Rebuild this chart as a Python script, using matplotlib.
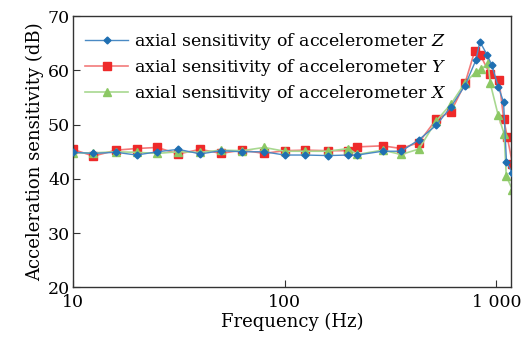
import matplotlib
matplotlib.use("Agg")
import matplotlib.pyplot as plt
from matplotlib.ticker import NullLocator

plt.rcParams['font.family'] = ['DejaVu Serif']
plt.rcParams['mathtext.fontset'] = 'dejavuserif'

freq_z = [10, 12.5, 16, 20, 25, 31.5, 40, 50, 63, 80, 100, 125, 160, 200, 220,
          290, 355, 430, 520, 610, 710, 800, 835, 905, 950, 1020, 1080, 1115, 1190]
sens_z = [44.9, 44.7, 44.9, 44.4, 45.0, 45.45, 44.6, 45.2, 45.0, 45.0, 44.4, 44.4, 44.3, 44.4, 44.4,
          45.1, 45.1, 47.2, 49.9, 53.3, 57.2, 61.9, 65.3, 62.8, 61.0, 57.0, 54.2, 43.2, 41.0]

freq_y = [10, 12.5, 16, 20, 25, 31.5, 40, 50, 63, 80, 100, 125, 160, 200, 220,
          290, 355, 430, 520, 610, 710, 790, 840, 930, 1028, 1082, 1125, 1190]
sens_y = [45.45, 44.2, 45.3, 45.6, 45.8, 44.6, 45.45, 44.7, 45.3, 44.7, 45.2, 45.3, 45.2, 45.2, 45.9,
          46.1, 45.6, 46.7, 51.0, 52.4, 57.6, 63.6, 62.8, 59.4, 58.3, 51.0, 47.7, 42.8]

freq_x = [10, 12.5, 16, 20, 25, 31.5, 40, 50, 63, 80, 100, 125, 160, 200, 220,
          290, 355, 430, 520, 610, 710, 800, 845, 914, 935, 1018, 1087, 1113, 1190]
sens_x = [44.8, 44.8, 45.0, 44.9, 44.7, 45.0, 44.9, 45.3, 45.2, 45.8, 45.1, 45.1, 45.1, 45.6, 44.5,
          45.3, 44.5, 45.5, 50.7, 53.8, 57.7, 59.7, 60.2, 61.3, 57.6, 51.8, 48.3, 40.5, 38.0]

labels = ["axial sensitivity of accelerometer $Z$",
          "axial sensitivity of accelerometer $Y$",
          "axial sensitivity of accelerometer $X$"]

xticks = [10, 100, 1000]
xticklabels = ["10", "100", "1 000"]
yticks = [20, 30, 40, 50, 60, 70]

fig = plt.figure(figsize=(5.24, 3.43), dpi=100)
ax = fig.add_axes([0.139, 0.162, 0.836, 0.791])

ax.plot(freq_z, sens_z, color="#4a8ac4", lw=1.0, marker="D", ms=3.5,
        mfc="#1f6fb2", mec="#1f6fb2", label=labels[0], zorder=3)
ax.plot(freq_y, sens_y, color="#f27a7a", lw=1.2, marker="s", ms=5.5,
        mfc="#ee2a2a", mec="#ee2a2a", label=labels[1], zorder=2)
ax.plot(freq_x, sens_x, color="#a8d890", lw=1.2, marker="^", ms=6,
        mfc="#8cc864", mec="#8cc864", label=labels[2], zorder=2.5)

ax.set_xscale("log")
ax.set_xlim(10, 1170)
ax.set_ylim(20, 70)
ax.set_xticks(xticks, labels=xticklabels)
ax.xaxis.set_minor_locator(NullLocator())
ax.set_yticks(yticks)
ax.tick_params(direction="in", length=5, width=0.8, labelsize=12.5, color="#333333",
               top=False, right=False)
ax.tick_params(axis="x", pad=5)
ax.tick_params(axis="y", pad=2)
for s in ax.spines.values():
    s.set_color("#333333")
    s.set_linewidth(1.0)

ax.set_xlabel("Frequency (Hz)", fontsize=13, labelpad=1)
ax.set_ylabel("Acceleration sensitivity (dB)", fontsize=13, labelpad=3)

ax.legend(loc="upper left", frameon=False, fontsize=12.5, handlelength=2.5,
          handletextpad=0.3, labelspacing=0.3, borderaxespad=0.3,
          bbox_to_anchor=(0.0, 0.99))

fig.savefig("out.png", dpi=100)
